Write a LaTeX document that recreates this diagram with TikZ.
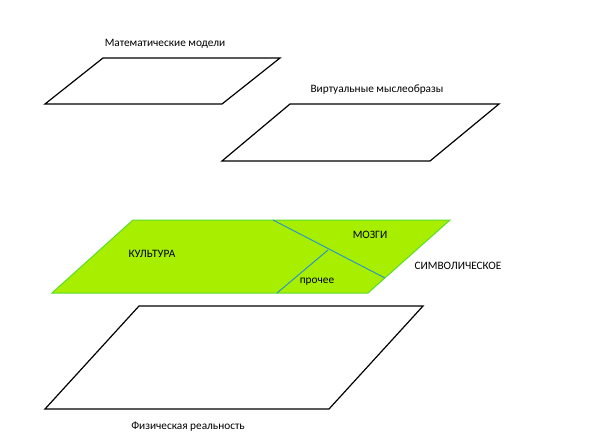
\documentclass[tikz,border=0pt]{standalone}
\usepackage{fontspec}
\setmainfont{Carlito}
\definecolor{limefill}{RGB}{168,238,0}
\definecolor{limeedge}{RGB}{90,220,40}
\definecolor{splitblue}{RGB}{45,150,200}
\tikzset{
  plane/.style={draw=black, line width=1.2pt, line join=miter},
  lbl/.style={inner sep=1pt, font=\fontsize{11.3}{13}\selectfont},
}
\begin{document}
\begin{tikzpicture}[x=1pt, y=-1pt]
\useasboundingbox (0,0) rectangle (591,444);
\draw[plane] (103,58) -- (280,58) -- (222,104) -- (45,104) -- cycle;
\draw[plane] (290,104) -- (499,104) -- (430,161) -- (222,161) -- cycle;
\draw[plane, fill=limefill, draw=limeedge, line width=1pt] (133,220) -- (450,220) -- (368,293) -- (52,293) -- cycle;
\draw[plane] (139,306) -- (423,306) -- (329,409) -- (45,409) -- cycle;
\coordinate (cuta) at (273,220);
\coordinate (cutb) at (385,278);
\coordinate (cutc) at (277,293);
\coordinate (cutd) at (328,250);
\draw[splitblue, line width=1pt] (cuta) -- (cutb);
\draw[splitblue, line width=1pt] (cutc) -- (cutd);
\node[lbl] (math) at (165,44) {Математические модели};
\node[lbl] (virt) at (377,90) {Виртуальные мыслеобразы};
\node[lbl] (cult) at (152,254) {КУЛЬТУРА};
\node[lbl] (brain) at (370,235) {МОЗГИ};
\node[lbl] (other) at (317,282) {прочее};
\node[lbl] (symb) at (458,266) {СИМВОЛИЧЕСКОЕ};
\node[lbl] (phys) at (188,427) {Физическая реальность};
\end{tikzpicture}
\end{document}
